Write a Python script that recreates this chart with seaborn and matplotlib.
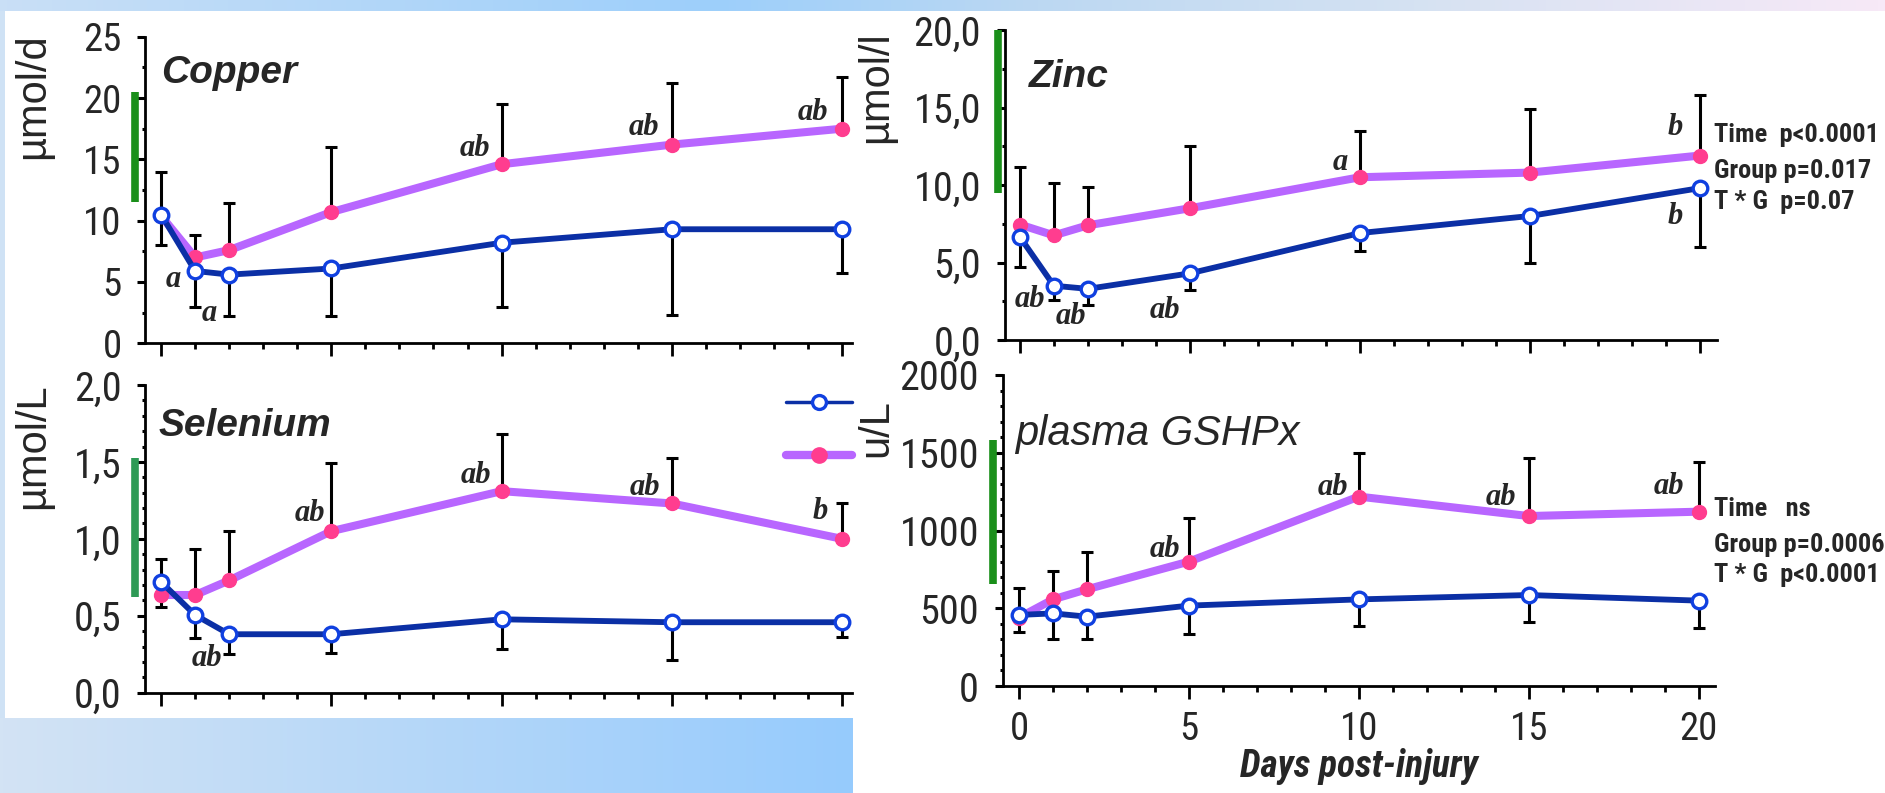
import numpy as np
import pandas as pd
import matplotlib
matplotlib.use("Agg")
import matplotlib.pyplot as plt
import matplotlib.font_manager as fm
from matplotlib.lines import Line2D
from matplotlib.ticker import MultipleLocator
from matplotlib.transforms import blended_transform_factory
from matplotlib.colors import LinearSegmentedColormap
import seaborn as sns

# ---------------- data ----------------
days = [0, 1, 2, 5, 10, 15, 20]

cu_ctrl = [10.5, 5.9, 5.6, 6.1, 8.2, 9.3, 9.3]
cu_ctrl_low = [8.0, 3.0, 2.2, 2.2, 3.0, 2.3, 5.7]
cu_supp = [10.4, 7.0, 7.6, 10.7, 14.6, 16.2, 17.5]
cu_supp_high = [14.0, 8.8, 11.4, 16.0, 19.5, 21.2, 21.7]

zn_ctrl = [6.65, 3.5, 3.3, 4.3, 6.9, 8.0, 9.8]
zn_ctrl_low = [4.7, 2.6, 2.25, 3.2, 5.75, 5.0, 6.0]
zn_supp = [7.45, 6.75, 7.4, 8.5, 10.5, 10.8, 11.9]
zn_supp_high = [11.15, 10.1, 9.9, 12.5, 13.5, 14.9, 15.8]

se_ctrl = [0.72, 0.505, 0.38, 0.38, 0.477, 0.458, 0.458]
se_ctrl_low = [0.56, 0.354, 0.25, 0.26, 0.285, 0.21, 0.365]
se_supp = [0.635, 0.635, 0.73, 1.05, 1.31, 1.23, 1.0]
se_supp_high = [0.87, 0.935, 1.05, 1.49, 1.68, 1.525, 1.236]

gpx_ctrl = [457, 467, 446, 517, 557, 585, 549]
gpx_ctrl_low = [349, 300, 300, 334, 388, 414, 375]
gpx_supp = [440, 557, 622, 800, 1218, 1093, 1121]
gpx_supp_high = [628, 740, 864, 1078, 1500, 1464, 1443]

# reference ranges (green bars)
cu_range = [11.5, 20.5]
zn_range = [9.5, 20.0]
se_range = [0.62, 1.525]
gpx_range = [656, 1582]

# significance letters: (text, day, value)
cu_letters = [("a", 0.37, 5.2), ("a", 1.42, 2.4), ("ab", 9.21, 15.9),
              ("ab", 14.17, 17.6), ("ab", 19.15, 18.8)]
zn_letters = [("ab", 0.29, 2.6), ("ab", 1.49, 1.5), ("ab", 4.25, 1.9),
              ("a", 9.41, 11.45), ("b", 19.26, 13.7), ("b", 19.26, 7.95)]
se_letters = [("ab", 1.36, 0.22), ("ab", 4.36, 1.165), ("ab", 9.25, 1.41),
              ("ab", 14.21, 1.334), ("b", 19.35, 1.18)]
gpx_letters = [("ab", 4.28, 875), ("ab", 9.24, 1276), ("ab", 14.19, 1212),
               ("ab", 19.13, 1280)]

zn_stats = ["Time  p<0.0001", "Group p=0.017", "T * G  p=0.07"]
gpx_stats = ["Time   ns", "Group p=0.0006", "T * G  p<0.0001"]

cu_yticks = [0, 5, 10, 15, 20, 25]
cu_ylabels = ["0", "5", "10", "15", "20", "25"]
zn_yticks = [0, 5, 10, 15, 20]
zn_ylabels = ["0,0", "5,0", "10,0", "15,0", "20,0"]
se_yticks = [0, 0.5, 1.0, 1.5, 2.0]
se_ylabels = ["0,0", "0,5", "1,0", "1,5", "2,0"]
gpx_yticks = [0, 500, 1000, 1500, 2000]
gpx_ylabels = ["0", "500", "1000", "1500", "2000"]
x_ticks = [0, 5, 10, 15, 20]
x_ticklabels = ["0", "5", "10", "15", "20"]

# ---------------- style ----------------
sns.set_style("ticks")


def _is_bold(f):
    w = f.weight
    if isinstance(w, str):
        return w.lower() in ("bold", "heavy", "black", "extra bold", "semibold", "demibold")
    return w >= 600


fonts = fm.fontManager.ttflist
names = sorted({f.name for f in fonts})
pref = ["Liberation Sans Narrow", "Arial Narrow", "Roboto Condensed", "Open Sans Condensed",
        "Noto Sans Condensed", "DejaVu Sans Condensed"]
narrow_cands = [n for n in pref if n in names] + \
               [n for n in names if ("Narrow" in n or "Condensed" in n) and n not in pref]
NARROW = narrow_cands[0] if narrow_cands else "Liberation Sans"
bold_cands = [n for n in narrow_cands if any(f.name == n and _is_bold(f) for f in fonts)]
if bold_cands:
    NARROW_B, B_SCALE = bold_cands[0], 1.0
else:
    NARROW_B, B_SCALE = "Liberation Sans", 0.86
SCALE = 1.0 if narrow_cands else 0.87
plt.rcParams["font.family"] = ["Liberation Sans", "DejaVu Sans"]

BLUE_LINE = "#0b2fa5"
BLUE_MK = "#1040e0"
PINK_LINE = "#b866ff"
PINK_MK = "#ff3d8f"
GREEN = "#1a8f1a"

W, H = 1885, 793
fig = plt.figure(figsize=(W / 100, H / 100), dpi=100)
fig.patch.set_facecolor("white")

# ---------------- slide background ----------------
bg = fig.add_axes([0, 0, 1, 1], zorder=-10)
bg.set_xlim(0, W)
bg.set_ylim(H, 0)
bg.axis("off")
top_cmap = LinearSegmentedColormap.from_list(
    "top", [(0, "#c9dff6"), (0.38, "#9dcffb"), (0.55, "#bcd8f2"), (0.75, "#d5e2f2"), (1, "#f7e9f7")])
bot_cmap = LinearSegmentedColormap.from_list("bot", [(0, "#d3e3f4"), (1, "#96cbfd")])
grad = np.linspace(0, 1, 256)[None, :]
bg.imshow(grad, cmap=top_cmap, extent=(0, W, 11, 0), aspect="auto")
bg.imshow(grad, cmap=bot_cmap, extent=(0, 853, H, 718), aspect="auto")
bg.imshow(np.zeros((1, 1)), cmap=LinearSegmentedColormap.from_list("l", ["#cfe2f5", "#cfe2f5"]),
          extent=(0, 5, 718, 11), aspect="auto")

# ---------------- panels ----------------
rects = {
    "cu": [145.4 / W, 1 - 343.3 / H, (852 - 145.4) / W, (343.3 - 36.7) / H],
    "zn": [1004.6 / W, 1 - 340 / H, (1716.6 - 1004.6) / W, 310 / H],
    "se": [145.4 / W, 1 - 692.7 / H, (852 - 145.4) / W, (692.7 - 385) / H],
    "gpx": [1002.7 / W, 1 - 686 / H, (1714.6 - 1002.7) / W, 311 / H],
}


def draw_panel(ax, ctrl, ctrl_low, supp, supp_high, ylim, yticks, ylabels, minor,
               xlim, title, title_style, title_pos, ylabel, ylabel_pos, rng, rng_x,
               letters, tick_fs, show_xlabels=False, rng_color=GREEN):
    ctrl = np.array(ctrl, float)
    supp = np.array(supp, float)
    ax.set_facecolor("none")
    ax.errorbar(days, ctrl, yerr=[ctrl - np.array(ctrl_low), np.zeros(len(days))],
                fmt="none", ecolor="black", elinewidth=2.2, capsize=4, capthick=2.2, zorder=2)
    ax.errorbar(days, supp, yerr=[np.zeros(len(days)), np.array(supp_high) - supp],
                fmt="none", ecolor="black", elinewidth=2.2, capsize=4, capthick=2.2, zorder=2)
    df = pd.DataFrame({"day": days, "ctrl": ctrl, "supp": supp})
    sns.lineplot(data=df, x="day", y="supp", ax=ax, color=PINK_LINE, linewidth=5.8,
                 marker="o", markersize=10, markerfacecolor=PINK_MK, markeredgecolor=PINK_MK,
                 markeredgewidth=1, zorder=3)
    sns.lineplot(data=df, x="day", y="ctrl", ax=ax, color=BLUE_LINE, linewidth=4.2,
                 marker="o", markersize=10.5, markerfacecolor="white", markeredgecolor=BLUE_MK,
                 markeredgewidth=2.4, zorder=4)
    ax.set_xlim(*xlim)
    ax.set_ylim(*ylim)
    ax.set_yticks(yticks)
    ax.set_yticklabels(ylabels, fontfamily=NARROW, fontsize=tick_fs * SCALE)
    ax.yaxis.set_minor_locator(MultipleLocator(minor))
    ax.set_xticks(x_ticks)
    ax.xaxis.set_minor_locator(MultipleLocator(1))
    if show_xlabels:
        ax.set_xticklabels(x_ticklabels, fontfamily=NARROW, fontsize=28 * SCALE)
        ax.set_xlabel("Days post-injury", fontfamily=NARROW_B, fontsize=27 * B_SCALE,
                      fontweight="bold", fontstyle="italic", labelpad=0)
    else:
        ax.set_xticklabels([])
        ax.set_xlabel("")
    ax.tick_params(axis="y", which="major", direction="out", length=6, width=2.2,
                   pad=11, color="black")
    ax.tick_params(axis="y", which="minor", direction="out", length=2, width=2.2, color="black")
    ax.tick_params(axis="x", which="major", direction="out", length=9, width=2, pad=9,
                   color="black")
    ax.tick_params(axis="x", which="minor", direction="out", length=4.5, width=2, color="black")
    sns.despine(ax=ax)
    for s in ("left", "bottom"):
        ax.spines[s].set_linewidth(2)
        ax.spines[s].set_color("black")
    ax.set_ylabel(ylabel, fontsize=30, labelpad=0)
    ax.yaxis.set_label_coords(*ylabel_pos)
    ax.text(title_pos[0], title_pos[1], title, transform=ax.transAxes, fontsize=title_style[0],
            fontweight=title_style[1], fontstyle="italic", ha="left", va="baseline")
    tr = blended_transform_factory(ax.transAxes, ax.transData)
    ax.plot([rng_x, rng_x], rng, color=rng_color, linewidth=5.5, solid_capstyle="butt",
            transform=tr, clip_on=False, zorder=1)
    for txt, xd, yd in letters:
        ax.text(xd, yd, txt, fontfamily="Liberation Serif", fontweight="bold",
                fontstyle="italic", fontsize=22, ha="center", va="center", zorder=5)


ax_cu = fig.add_axes(rects["cu"])
draw_panel(ax_cu, cu_ctrl, cu_ctrl_low, cu_supp, cu_supp_high, (0, 25), cu_yticks, cu_ylabels,
           2.5, (-0.46, 20.29), "Copper", (28, "bold"), (0.022, 0.849), "µmol/d",
           (-0.131, 0.807), cu_range, -0.0147, cu_letters, 28)

ax_zn = fig.add_axes(rects["zn"])
draw_panel(ax_zn, zn_ctrl, zn_ctrl_low, zn_supp, zn_supp_high, (0, 20), zn_yticks, zn_ylabels,
           2.5, (-0.45, 20.49), "Zinc", (28, "bold"), (0.034, 0.816), "µmol/l",
           (-0.1525, 0.816), zn_range, -0.009, zn_letters, 29)

ax_se = fig.add_axes(rects["se"])
draw_panel(ax_se, se_ctrl, se_ctrl_low, se_supp, se_supp_high, (0, 2.0), se_yticks, se_ylabels,
           0.1, (-0.46, 20.29), "Selenium", (28, "bold"), (0.018, 0.834), "µmol/L",
           (-0.131, 0.80), se_range, -0.015, se_letters, 29, rng_color="#2e9a55")

ax_gpx = fig.add_axes(rects["gpx"])
draw_panel(ax_gpx, gpx_ctrl, gpx_ctrl_low, gpx_supp, gpx_supp_high, (0, 2000), gpx_yticks,
           gpx_ylabels, 100, (-0.48, 20.47), "plasma GSHPx", (30, "normal"), (0.018, 0.775),
           "u/L", (-0.150, 0.83), gpx_range, -0.0136, gpx_letters, 29, show_xlabels=True)

# statistics text
stat_fs = 19 * B_SCALE
for ax, lines, ys, xa in ((ax_zn, zn_stats, (0.639, 0.524, 0.4226), 0.9963),
                          (ax_gpx, gpx_stats, (0.547, 0.431, 0.334), 0.999)):
    for t, y in zip(lines, ys):
        ax.text(xa, y, t, transform=ax.transAxes, fontfamily=NARROW_B, fontweight="bold",
                fontsize=stat_fs, ha="left", va="baseline", clip_on=False)

# legend (group labels are cut off in the original)
h_ctrl = Line2D([], [], color=BLUE_LINE, linewidth=2.5, marker="o", markersize=10,
                markerfacecolor="white", markeredgecolor=BLUE_MK, markeredgewidth=2.4)
h_supp = Line2D([], [], color=PINK_LINE, linewidth=6, marker="o", markersize=11,
                markerfacecolor=PINK_MK, markeredgecolor=PINK_MK)
fig.legend([h_ctrl, h_supp], [" ", " "], loc="upper left",
           bbox_to_anchor=(786 / W, 1 - 392 / H), frameon=False, fontsize=20,
           handlelength=2.37, handletextpad=0, borderpad=0, borderaxespad=0,
           labelspacing=0.95)

fig.savefig("out.png", dpi=100, facecolor=fig.get_facecolor())
